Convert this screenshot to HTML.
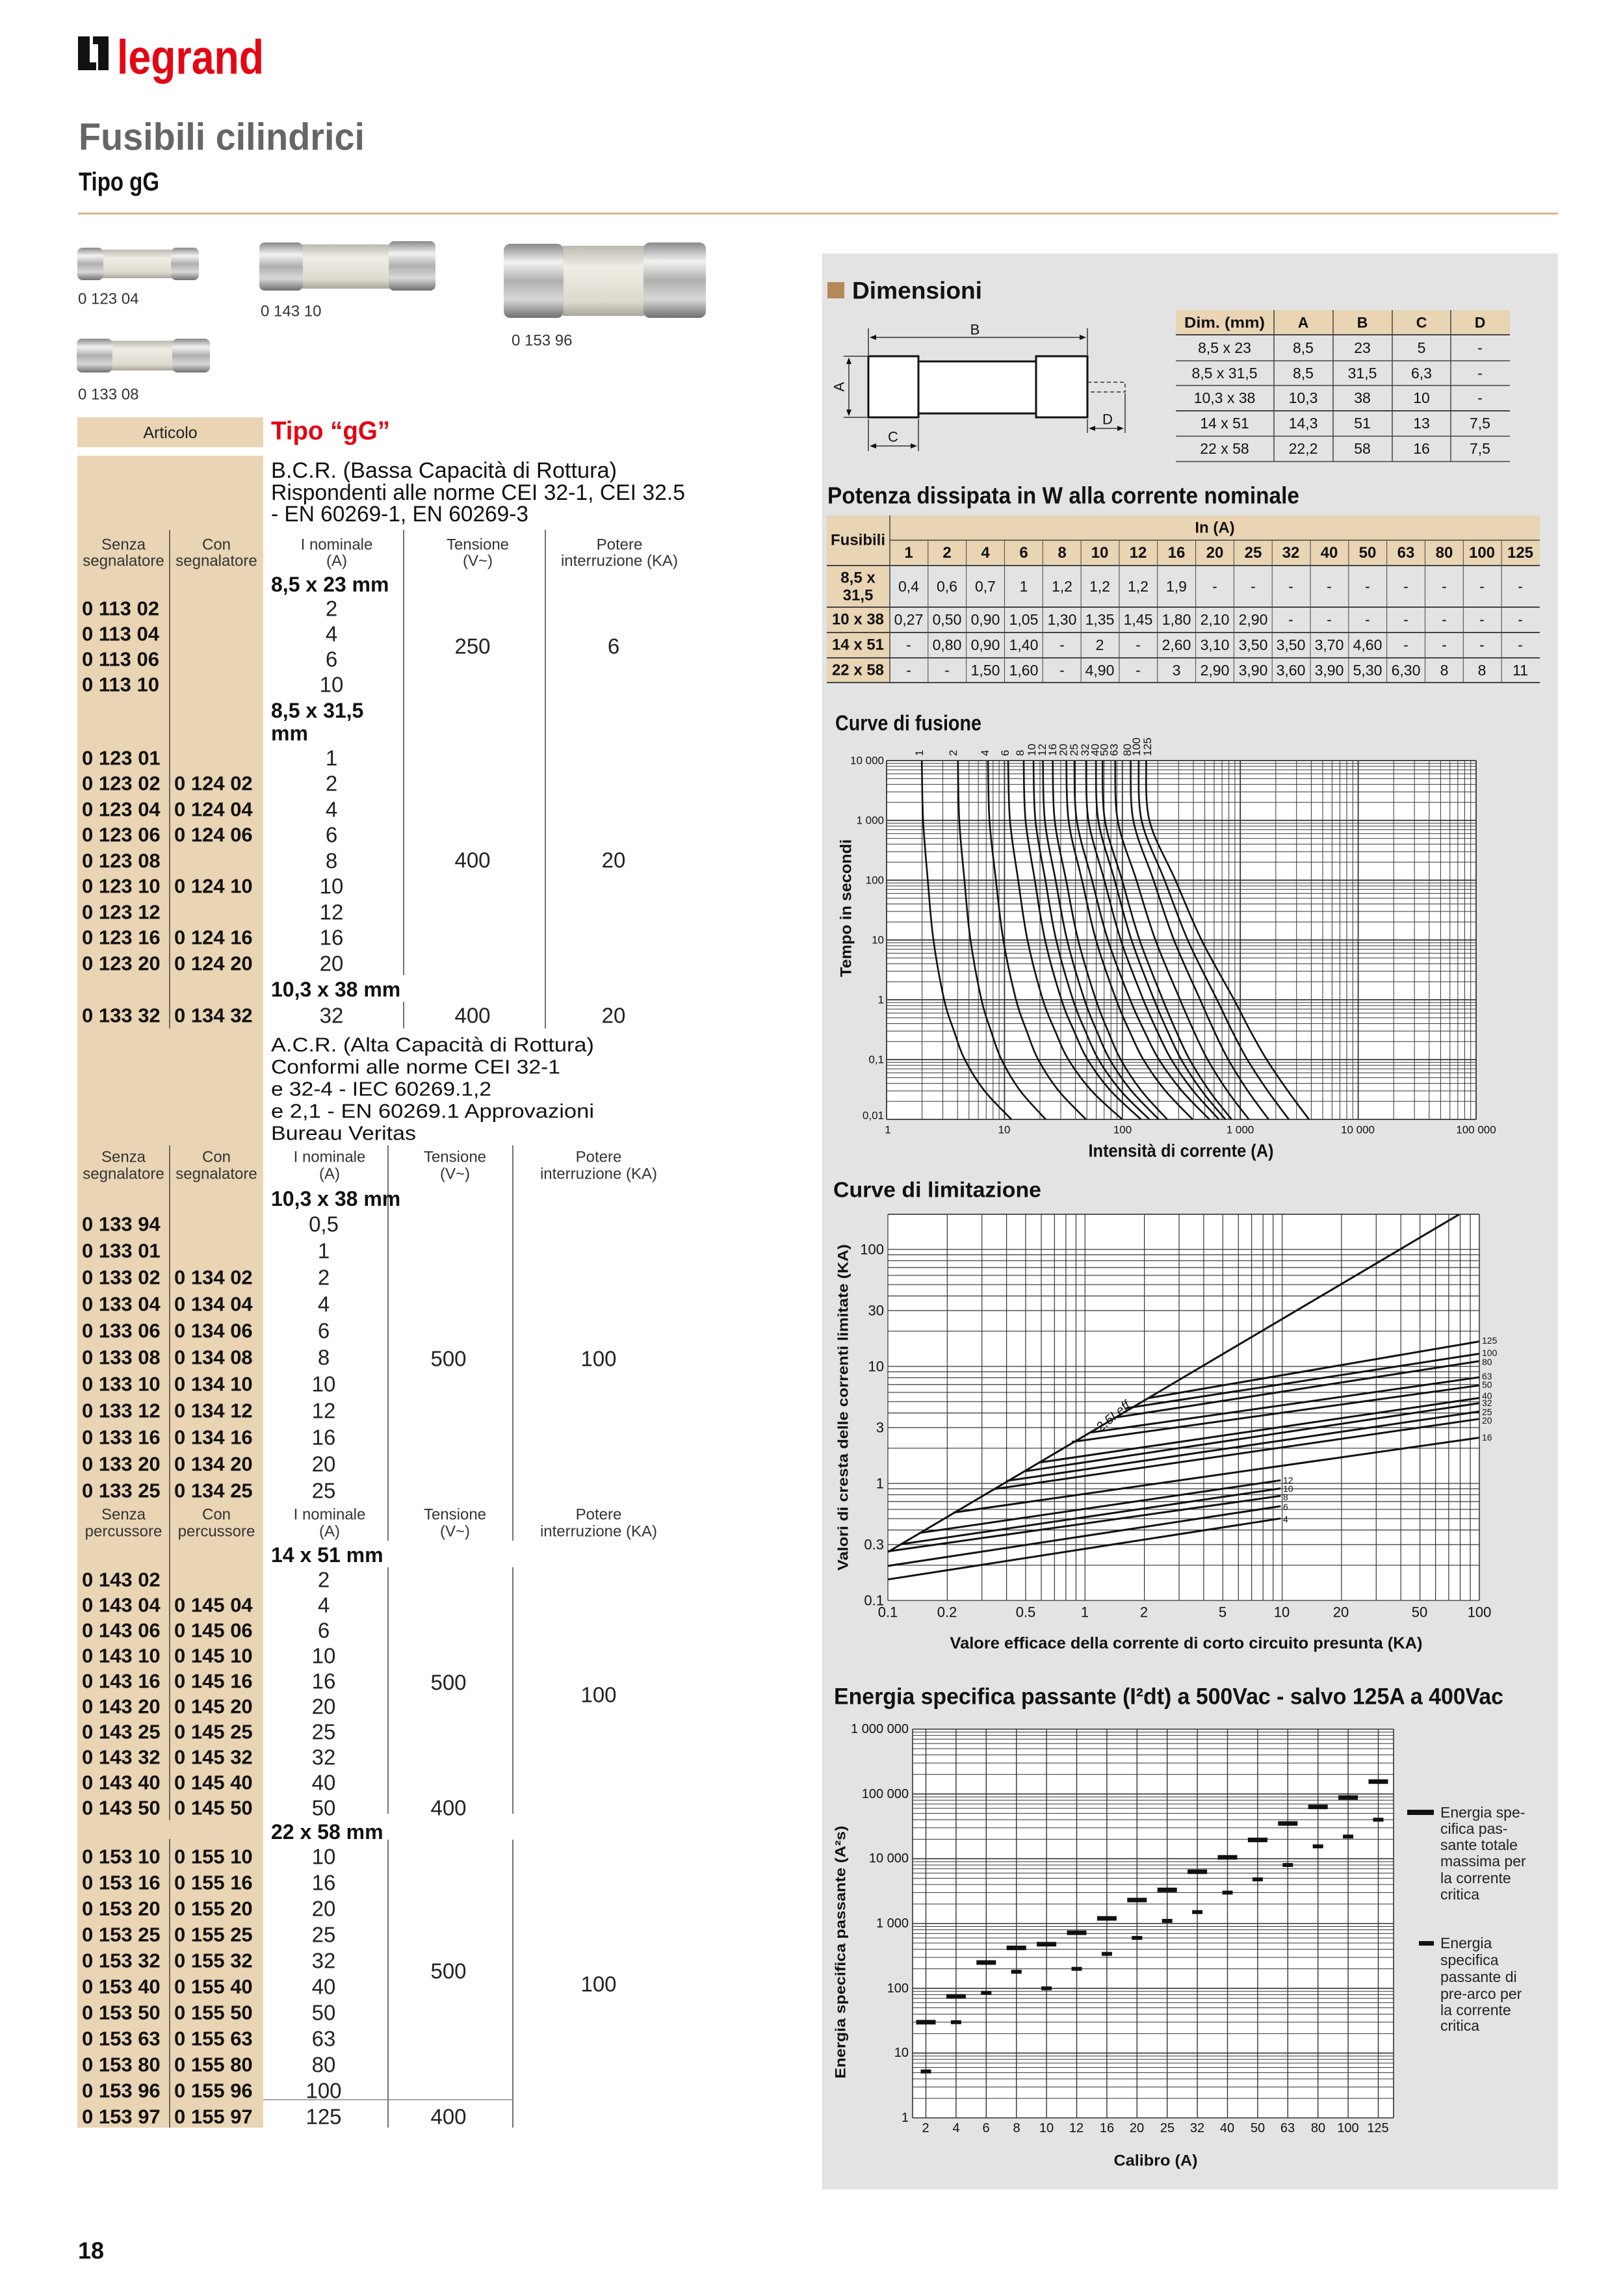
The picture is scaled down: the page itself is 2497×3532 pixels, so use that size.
<!DOCTYPE html>
<html><head><meta charset="utf-8">
<style>
html,body{margin:0;padding:0;background:#fff}
svg{display:block}
text{font-family:"Liberation Sans",Arial,sans-serif;dominant-baseline:central}
.b{font-weight:bold}
</style></head>
<body>
<svg id="s" xmlns="http://www.w3.org/2000/svg" width="2497" height="3532" viewBox="0 0 2497 3532">
<defs>
<linearGradient id="met" x1="0" y1="0" x2="0" y2="1">
<stop offset="0" stop-color="#8a8a8a"/><stop offset=".25" stop-color="#f2f2f2"/><stop offset=".5" stop-color="#b0b0b0"/><stop offset=".75" stop-color="#d8d8d8"/><stop offset="1" stop-color="#707070"/></linearGradient>
<linearGradient id="lab" x1="0" y1="0" x2="0" y2="1">
<stop offset="0" stop-color="#bdbab0"/><stop offset=".3" stop-color="#efede4"/><stop offset=".8" stop-color="#dcd9ce"/><stop offset="1" stop-color="#a9a69c"/></linearGradient>
</defs>
<!-- logo -->
<path d="M120 56h18v40h10v12h-28zM143 56h24v52h-16v-40h-8z" fill="#111"/>
<text x="180" y="88" font-size="74" class="b" fill="#e30613" textLength="226" lengthAdjust="spacingAndGlyphs">legrand</text>
<text x="121" y="211" font-size="58" class="b" fill="#666" textLength="440" lengthAdjust="spacingAndGlyphs">Fusibili cilindrici</text>
<text x="121" y="280" font-size="40" class="b" fill="#111" textLength="124" lengthAdjust="spacingAndGlyphs">Tipo gG</text>
<rect x="120" y="327" width="2277" height="3" fill="#d6b88a"/>
<!-- photos -->
<g>
<rect x="158" y="384" width="106" height="44" fill="url(#lab)"/><rect x="119" y="381" width="40" height="50" rx="8" fill="url(#met)"/><rect x="263" y="381" width="43" height="50" rx="8" fill="url(#met)"/>
<rect x="465" y="376" width="134" height="68" fill="url(#lab)"/><rect x="399" y="373" width="67" height="74" rx="8" fill="url(#met)"/><rect x="598" y="371" width="72" height="76" rx="8" fill="url(#met)"/>
<rect x="866" y="378" width="125" height="108" fill="url(#lab)"/><rect x="775" y="375" width="92" height="114" rx="10" fill="url(#met)"/><rect x="990" y="373" width="96" height="116" rx="10" fill="url(#met)"/>
<rect x="172" y="524" width="94" height="46" fill="url(#lab)"/><rect x="118" y="521" width="55" height="52" rx="8" fill="url(#met)"/><rect x="265" y="521" width="58" height="52" rx="8" fill="url(#met)"/>
</g>
<g font-size="24" fill="#333">
<text x="120" y="460">0 123 04</text><text x="401" y="479">0 143 10</text><text x="787" y="524">0 153 96</text><text x="120" y="607">0 133 08</text>
</g>
<!-- left table -->
<rect x="119" y="642" width="286" height="46" fill="#e9d4b4"/>
<text x="262" y="666" font-size="25" text-anchor="middle" fill="#222">Articolo</text>
<text x="417" y="663" font-size="40" class="b" fill="#e30613" textLength="183" lengthAdjust="spacingAndGlyphs">Tipo “gG”</text>
<rect x="119" y="701" width="286" height="2572" fill="#e9d4b4"/>
<g stroke="#444" stroke-width="1.5">
<line x1="261" y1="815" x2="261" y2="1582"/><line x1="261" y1="1762" x2="261" y2="2800"/><line x1="261" y1="2829" x2="261" y2="3273"/>
<line x1="621" y1="815" x2="621" y2="1500"/><line x1="621" y1="1541" x2="621" y2="1582"/><line x1="839" y1="815" x2="839" y2="1582"/>
<line x1="597" y1="1762" x2="597" y2="2370"/><line x1="597" y1="2411" x2="597" y2="2790"/><line x1="597" y1="2830" x2="597" y2="3273"/>
<line x1="789" y1="1762" x2="789" y2="2370"/><line x1="789" y1="2411" x2="789" y2="2790"/><line x1="789" y1="2830" x2="789" y2="3273"/>
<line x1="405" y1="3230" x2="789" y2="3230" stroke="#888"/>
</g>
<g font-size="34" fill="#111">
<text x="417" y="724" textLength="532" lengthAdjust="spacingAndGlyphs">B.C.R. (Bassa Capacità di Rottura)</text>
<text x="417" y="758" textLength="637" lengthAdjust="spacingAndGlyphs">Rispondenti alle norme CEI 32-1, CEI 32.5</text>
<text x="417" y="791" textLength="396" lengthAdjust="spacingAndGlyphs">- EN 60269-1, EN 60269-3</text>
</g>
<g font-size="31" fill="#111">
<text x="417" y="1607" textLength="497" lengthAdjust="spacingAndGlyphs">A.C.R. (Alta Capacità di Rottura)</text>
<text x="417" y="1641" textLength="445" lengthAdjust="spacingAndGlyphs">Conformi alle norme CEI 32-1</text>
<text x="417" y="1675" textLength="339" lengthAdjust="spacingAndGlyphs">e 32-4 - IEC 60269.1,2</text>
<text x="417" y="1709" textLength="497" lengthAdjust="spacingAndGlyphs">e 2,1 - EN 60269.1  Approvazioni</text>
<text x="417" y="1743" textLength="223" lengthAdjust="spacingAndGlyphs">Bureau Veritas</text>
</g>
<g font-size="24" fill="#333" text-anchor="middle">
<text x="190" y="838">Senza</text><text x="190" y="863">segnalatore</text><text x="333" y="838">Con</text><text x="333" y="863">segnalatore</text>
<text x="518" y="838">I nominale</text><text x="518" y="863">(A)</text><text x="735" y="838">Tensione</text><text x="735" y="863">(V~)</text><text x="953" y="838">Potere</text><text x="953" y="863">interruzione (KA)</text>
<text x="190" y="1780">Senza</text><text x="190" y="1806">segnalatore</text><text x="333" y="1780">Con</text><text x="333" y="1806">segnalatore</text>
<text x="507" y="1780">I nominale</text><text x="507" y="1806">(A)</text><text x="700" y="1780">Tensione</text><text x="700" y="1806">(V~)</text><text x="921" y="1780">Potere</text><text x="921" y="1806">interruzione (KA)</text>
<text x="190" y="2330">Senza</text><text x="190" y="2356">percussore</text><text x="333" y="2330">Con</text><text x="333" y="2356">percussore</text>
<text x="507" y="2330">I nominale</text><text x="507" y="2356">(A)</text><text x="700" y="2330">Tensione</text><text x="700" y="2356">(V~)</text><text x="921" y="2330">Potere</text><text x="921" y="2356">interruzione (KA)</text>
</g>
<g font-size="32" class="b" fill="#111">
<text x="417" y="899">8,5 x 23 mm</text><text x="417" y="1093">8,5 x 31,5</text><text x="417" y="1128">mm</text>
<text x="417" y="1522">10,3 x 38 mm</text><text x="417" y="1844">10,3 x 38 mm</text><text x="417" y="2392">14 x 51 mm</text><text x="417" y="2818">22 x 58 mm</text>
</g>
<g font-size="31" class="b" fill="#111">
<text x="126" y="936">0 113 02</text><text x="126" y="975">0 113 04</text><text x="126" y="1014">0 113 06</text><text x="126" y="1053">0 113 10</text>
<text x="126" y="1166">0 123 01</text><text x="126" y="1205">0 123 02</text><text x="126" y="1245">0 123 04</text><text x="126" y="1284">0 123 06</text><text x="126" y="1324">0 123 08</text><text x="126" y="1363">0 123 10</text><text x="126" y="1403">0 123 12</text><text x="126" y="1442">0 123 16</text><text x="126" y="1482">0 123 20</text>
<text x="268" y="1205">0 124 02</text><text x="268" y="1245">0 124 04</text><text x="268" y="1284">0 124 06</text><text x="268" y="1363">0 124 10</text><text x="268" y="1442">0 124 16</text><text x="268" y="1482">0 124 20</text>
<text x="126" y="1562">0 133 32</text><text x="268" y="1562">0 134 32</text>
<text x="126" y="1883">0 133 94</text><text x="126" y="1924">0 133 01</text><text x="126" y="1965">0 133 02</text><text x="126" y="2006">0 133 04</text><text x="126" y="2047">0 133 06</text><text x="126" y="2088">0 133 08</text><text x="126" y="2129">0 133 10</text><text x="126" y="2170">0 133 12</text><text x="126" y="2211">0 133 16</text><text x="126" y="2252">0 133 20</text><text x="126" y="2293">0 133 25</text>
<text x="268" y="1965">0 134 02</text><text x="268" y="2006">0 134 04</text><text x="268" y="2047">0 134 06</text><text x="268" y="2088">0 134 08</text><text x="268" y="2129">0 134 10</text><text x="268" y="2170">0 134 12</text><text x="268" y="2211">0 134 16</text><text x="268" y="2252">0 134 20</text><text x="268" y="2293">0 134 25</text>
<text x="126" y="2430">0 143 02</text><text x="126" y="2469">0 143 04</text><text x="126" y="2508">0 143 06</text><text x="126" y="2547">0 143 10</text><text x="126" y="2586">0 143 16</text><text x="126" y="2625">0 143 20</text><text x="126" y="2664">0 143 25</text><text x="126" y="2703">0 143 32</text><text x="126" y="2742">0 143 40</text><text x="126" y="2781">0 143 50</text>
<text x="268" y="2469">0 145 04</text><text x="268" y="2508">0 145 06</text><text x="268" y="2547">0 145 10</text><text x="268" y="2586">0 145 16</text><text x="268" y="2625">0 145 20</text><text x="268" y="2664">0 145 25</text><text x="268" y="2703">0 145 32</text><text x="268" y="2742">0 145 40</text><text x="268" y="2781">0 145 50</text>
<text x="126" y="2856">0 153 10</text><text x="126" y="2896">0 153 16</text><text x="126" y="2936">0 153 20</text><text x="126" y="2976">0 153 25</text><text x="126" y="3016">0 153 32</text><text x="126" y="3056">0 153 40</text><text x="126" y="3096">0 153 50</text><text x="126" y="3136">0 153 63</text><text x="126" y="3176">0 153 80</text><text x="126" y="3216">0 153 96</text><text x="126" y="3256">0 153 97</text>
<text x="268" y="2856">0 155 10</text><text x="268" y="2896">0 155 16</text><text x="268" y="2936">0 155 20</text><text x="268" y="2976">0 155 25</text><text x="268" y="3016">0 155 32</text><text x="268" y="3056">0 155 40</text><text x="268" y="3096">0 155 50</text><text x="268" y="3136">0 155 63</text><text x="268" y="3176">0 155 80</text><text x="268" y="3216">0 155 96</text><text x="268" y="3256">0 155 97</text>
</g>
<g font-size="33" fill="#222" text-anchor="middle">
<text x="510" y="936">2</text><text x="510" y="975">4</text><text x="510" y="1014">6</text><text x="510" y="1053">10</text>
<text x="510" y="1166">1</text><text x="510" y="1205">2</text><text x="510" y="1245">4</text><text x="510" y="1284">6</text><text x="510" y="1324">8</text><text x="510" y="1363">10</text><text x="510" y="1403">12</text><text x="510" y="1442">16</text><text x="510" y="1482">20</text><text x="510" y="1562">32</text>
<text x="727" y="994">250</text><text x="944" y="994">6</text><text x="727" y="1323">400</text><text x="944" y="1323">20</text><text x="727" y="1562">400</text><text x="944" y="1562">20</text>
<text x="498" y="1883">0,5</text><text x="498" y="1924">1</text><text x="498" y="1965">2</text><text x="498" y="2006">4</text><text x="498" y="2047">6</text><text x="498" y="2088">8</text><text x="498" y="2129">10</text><text x="498" y="2170">12</text><text x="498" y="2211">16</text><text x="498" y="2252">20</text><text x="498" y="2293">25</text>
<text x="690" y="2090">500</text><text x="921" y="2090">100</text>
<text x="498" y="2430">2</text><text x="498" y="2469">4</text><text x="498" y="2508">6</text><text x="498" y="2547">10</text><text x="498" y="2586">16</text><text x="498" y="2625">20</text><text x="498" y="2664">25</text><text x="498" y="2703">32</text><text x="498" y="2742">40</text><text x="498" y="2781">50</text>
<text x="690" y="2588">500</text><text x="921" y="2607">100</text><text x="690" y="2781">400</text>
<text x="498" y="2856">10</text><text x="498" y="2896">16</text><text x="498" y="2936">20</text><text x="498" y="2976">25</text><text x="498" y="3016">32</text><text x="498" y="3056">40</text><text x="498" y="3096">50</text><text x="498" y="3136">63</text><text x="498" y="3176">80</text><text x="498" y="3216">100</text><text x="498" y="3256">125</text>
<text x="690" y="3032">500</text><text x="921" y="3052">100</text><text x="690" y="3256">400</text>
</g>
<text x="120" y="3462" font-size="36" class="b" fill="#111">18</text>

<!-- right panel -->
<rect x="1265" y="390" width="1132" height="2978" fill="#e3e3e3"/>
<rect x="1273" y="434" width="26" height="25" fill="#b5885a"/>
<text x="1311" y="447" font-size="37" class="b" fill="#111" textLength="200" lengthAdjust="spacingAndGlyphs">Dimensioni</text>
<!-- fuse drawing -->
<g stroke="#111" stroke-width="3" fill="#fff">
<rect x="1413" y="556" width="181" height="80"/>
<rect x="1336" y="548" width="77" height="94"/>
<rect x="1594" y="548" width="79" height="94"/>
</g>
<g stroke="#333" stroke-width="1.5" fill="none">
<path d="M1673 588h58v15h-58" stroke-dasharray="6 4"/>
<line x1="1336" y1="505" x2="1336" y2="546"/><line x1="1673" y1="505" x2="1673" y2="546"/>
<line x1="1340" y1="519" x2="1669" y2="519"/>
<line x1="1298" y1="548" x2="1334" y2="548"/><line x1="1298" y1="642" x2="1334" y2="642"/>
<line x1="1306" y1="552" x2="1306" y2="638"/>
<line x1="1336" y1="645" x2="1336" y2="694"/><line x1="1413" y1="645" x2="1413" y2="694"/>
<line x1="1340" y1="686" x2="1409" y2="686"/>
<line x1="1673" y1="645" x2="1673" y2="666"/><line x1="1731" y1="605" x2="1731" y2="666"/>
<line x1="1677" y1="659" x2="1727" y2="659"/>
</g>
<g fill="#111">
<path d="M1338 519l10-4v8zM1671 519l-10-4v8zM1306 550l-4 10h8zM1306 640l-4-10h8zM1338 686l10-4v8zM1411 686l-10-4v8zM1675 659l10-4v8zM1729 659l-10-4v8z"/>
</g>
<g font-size="22" fill="#111" text-anchor="middle">
<text x="1500" y="507">B</text><text x="1374" y="672">C</text><text x="1704" y="645">D</text>
<text transform="translate(1291 595) rotate(-90)">A</text>
</g>
<!-- dim table -->
<rect x="1809" y="477" width="514" height="38" fill="#e9d4b4"/>
<g stroke="#444" stroke-width="1.5">
<line x1="1809" y1="515" x2="2323" y2="515" stroke-width="2"/><line x1="1809" y1="555" x2="2323" y2="555"/><line x1="1809" y1="593" x2="2323" y2="593"/><line x1="1809" y1="632" x2="2323" y2="632" stroke-width="2"/><line x1="1809" y1="671" x2="2323" y2="671"/><line x1="1809" y1="710" x2="2323" y2="710"/>
<line x1="1960" y1="477" x2="1960" y2="710"/><line x1="2051" y1="477" x2="2051" y2="710"/><line x1="2142" y1="477" x2="2142" y2="710"/><line x1="2232" y1="477" x2="2232" y2="710"/>
</g>
<g font-size="23" text-anchor="middle" fill="#111">
<g class="b"><text x="1884" y="496" textLength="124" lengthAdjust="spacingAndGlyphs">Dim. (mm)</text><text x="2005" y="496">A</text><text x="2096" y="496">B</text><text x="2187" y="496">C</text><text x="2277" y="496">D</text></g>
<text x="1884" y="535">8,5 x 23</text><text x="2005" y="535">8,5</text><text x="2096" y="535">23</text><text x="2187" y="535">5</text><text x="2277" y="535">-</text>
<text x="1884" y="574">8,5 x 31,5</text><text x="2005" y="574">8,5</text><text x="2096" y="574">31,5</text><text x="2187" y="574">6,3</text><text x="2277" y="574">-</text>
<text x="1884" y="612">10,3 x 38</text><text x="2005" y="612">10,3</text><text x="2096" y="612">38</text><text x="2187" y="612">10</text><text x="2277" y="612">-</text>
<text x="1884" y="651">14 x 51</text><text x="2005" y="651">14,3</text><text x="2096" y="651">51</text><text x="2187" y="651">13</text><text x="2277" y="651">7,5</text>
<text x="1884" y="690">22 x 58</text><text x="2005" y="690">22,2</text><text x="2096" y="690">58</text><text x="2187" y="690">16</text><text x="2277" y="690">7,5</text>
</g>
<text x="1273" y="762" font-size="36" class="b" fill="#111" textLength="726" lengthAdjust="spacingAndGlyphs">Potenza dissipata in W alla corrente nominale</text>
<!-- potenza table -->
<rect x="1272" y="793" width="1097" height="77" fill="#e9d4b4"/>
<rect x="1272" y="870" width="97" height="180" fill="#e9d4b4"/>
<g stroke="#444" stroke-width="1.5" id="ptl"></g>
<g font-size="24" class="b" text-anchor="middle" fill="#111">
<text x="1320" y="831">Fusibili</text><text x="1869" y="812">In (A)</text>
<text y="850"><tspan x="1398">1</tspan><tspan x="1457">2</tspan><tspan x="1516">4</tspan><tspan x="1575">6</tspan><tspan x="1634">8</tspan><tspan x="1692">10</tspan><tspan x="1751">12</tspan><tspan x="1810">16</tspan><tspan x="1869">20</tspan><tspan x="1928">25</tspan><tspan x="1986">32</tspan><tspan x="2045">40</tspan><tspan x="2104">50</tspan><tspan x="2163">63</tspan><tspan x="2222">80</tspan><tspan x="2280">100</tspan><tspan x="2339">125</tspan></text>
<text x="1320" y="889">8,5 x</text><text x="1320" y="916">31,5</text>
<text x="1320" y="953">10 x 38</text><text x="1320" y="992">14 x 51</text><text x="1320" y="1031">22 x 58</text>
</g>
<g font-size="23" text-anchor="middle" fill="#111">
<text y="902"><tspan x="1398">0,4</tspan><tspan x="1457">0,6</tspan><tspan x="1516">0,7</tspan><tspan x="1575">1</tspan><tspan x="1634">1,2</tspan><tspan x="1692">1,2</tspan><tspan x="1751">1,2</tspan><tspan x="1810">1,9</tspan><tspan x="1869">-</tspan><tspan x="1928">-</tspan><tspan x="1986">-</tspan><tspan x="2045">-</tspan><tspan x="2104">-</tspan><tspan x="2163">-</tspan><tspan x="2222">-</tspan><tspan x="2280">-</tspan><tspan x="2339">-</tspan></text>
<text y="953" textLength="0"><tspan x="1398">0,27</tspan><tspan x="1457">0,50</tspan><tspan x="1516">0,90</tspan><tspan x="1575">1,05</tspan><tspan x="1634">1,30</tspan><tspan x="1692">1,35</tspan><tspan x="1751">1,45</tspan><tspan x="1810">1,80</tspan><tspan x="1869">2,10</tspan><tspan x="1928">2,90</tspan><tspan x="1986">-</tspan><tspan x="2045">-</tspan><tspan x="2104">-</tspan><tspan x="2163">-</tspan><tspan x="2222">-</tspan><tspan x="2280">-</tspan><tspan x="2339">-</tspan></text>
<text y="992"><tspan x="1398">-</tspan><tspan x="1457">0,80</tspan><tspan x="1516">0,90</tspan><tspan x="1575">1,40</tspan><tspan x="1634">-</tspan><tspan x="1692">2</tspan><tspan x="1751">-</tspan><tspan x="1810">2,60</tspan><tspan x="1869">3,10</tspan><tspan x="1928">3,50</tspan><tspan x="1986">3,50</tspan><tspan x="2045">3,70</tspan><tspan x="2104">4,60</tspan><tspan x="2163">-</tspan><tspan x="2222">-</tspan><tspan x="2280">-</tspan><tspan x="2339">-</tspan></text>
<text y="1031"><tspan x="1398">-</tspan><tspan x="1457">-</tspan><tspan x="1516">1,50</tspan><tspan x="1575">1,60</tspan><tspan x="1634">-</tspan><tspan x="1692">4,90</tspan><tspan x="1751">-</tspan><tspan x="1810">3</tspan><tspan x="1869">2,90</tspan><tspan x="1928">3,90</tspan><tspan x="1986">3,60</tspan><tspan x="2045">3,90</tspan><tspan x="2104">5,30</tspan><tspan x="2163">6,30</tspan><tspan x="2222">8</tspan><tspan x="2280">8</tspan><tspan x="2339">11</tspan></text>
</g>

<!-- fusion chart -->
<text x="1285" y="1112" font-size="33" class="b" fill="#111" textLength="225" lengthAdjust="spacingAndGlyphs">Curve di fusione</text>
<rect x="1364" y="1170" width="907" height="552" fill="#fff"/>
<g id="fg" stroke="#333"></g>
<g id="fc" stroke="#111" stroke-width="2.6" fill="none"></g>
<g font-size="17" fill="#111" text-anchor="end">
<text x="1360" y="1170">10 000</text><text x="1360" y="1262">1 000</text><text x="1360" y="1354">100</text><text x="1360" y="1446">10</text><text x="1360" y="1538">1</text><text x="1360" y="1630">0,1</text><text x="1360" y="1716">0,01</text>
</g>
<g font-size="17" fill="#111" text-anchor="middle">
<text x="1366" y="1738">1</text><text x="1545" y="1738">10</text><text x="1727" y="1738">100</text><text x="1908" y="1738">1 000</text><text x="2089" y="1738">10 000</text><text x="2271" y="1738">100 000</text>
</g>
<g font-size="17" fill="#111" id="fl"></g>
<text x="1817" y="1770" font-size="28" class="b" text-anchor="middle" fill="#111" textLength="285" lengthAdjust="spacingAndGlyphs">Intensità di corrente (A)</text>
<text transform="translate(1302 1397) rotate(-90)" font-size="24" class="b" text-anchor="middle" fill="#111" textLength="212" lengthAdjust="spacingAndGlyphs">Tempo in secondi</text>

<!-- limitation chart -->
<text x="1282" y="1830" font-size="33" class="b" fill="#111" textLength="320" lengthAdjust="spacingAndGlyphs">Curve di limitazione</text>
<rect x="1366" y="1868" width="910" height="594" fill="#fff"/>
<g id="lg" stroke="#333"></g>
<g id="lc" stroke="#111" stroke-width="3" fill="none"></g>
<g font-size="22" fill="#111" text-anchor="end">
<text x="1360" y="1922">100</text><text x="2000" y="0" opacity="0"> </text><text x="1360" y="2016">30</text><text x="1360" y="2102">10</text><text x="1360" y="2196">3</text><text x="1360" y="2282">1</text><text x="1360" y="2376">0.3</text><text x="1360" y="2462">0.1</text>
</g>
<g font-size="22" fill="#111" text-anchor="middle">
<text x="1366" y="2480">0.1</text><text x="1457" y="2480">0.2</text><text x="1578" y="2480">0.5</text><text x="1669" y="2480">1</text><text x="1760" y="2480">2</text><text x="1881" y="2480">5</text><text x="1972" y="2480">10</text><text x="2063" y="2480">20</text><text x="2184" y="2480">50</text><text x="2276" y="2480">100</text>
</g>
<g font-size="14" fill="#111">
<text x="2280" y="2062">125</text><text x="2280" y="2081">100</text><text x="2280" y="2095">80</text><text x="2280" y="2117">63</text><text x="2280" y="2130">50</text><text x="2280" y="2147">40</text><text x="2280" y="2158">32</text><text x="2280" y="2172">25</text><text x="2280" y="2185">20</text><text x="2280" y="2211">16</text>
<text x="1974" y="2277">12</text><text x="1974" y="2290">10</text><text x="1974" y="2303">8</text><text x="1974" y="2318">6</text><text x="1974" y="2337">4</text>
</g>
<text transform="translate(1713 2179) rotate(-40)" font-size="20" font-style="italic" fill="#111" text-anchor="middle">2.5I eff</text>
<text x="1825" y="2528" font-size="25" class="b" text-anchor="middle" fill="#111" textLength="727" lengthAdjust="spacingAndGlyphs">Valore efficace della corrente di corto circuito presunta (KA)</text>
<text transform="translate(1297 2165) rotate(-90)" font-size="22" class="b" text-anchor="middle" fill="#111" textLength="502" lengthAdjust="spacingAndGlyphs">Valori di cresta delle correnti limitate (KA)</text>

<!-- energy chart -->
<text x="1283" y="2610" font-size="35" class="b" fill="#111" textLength="1030" lengthAdjust="spacingAndGlyphs">Energia specifica passante (I²dt) a 500Vac - salvo 125A a 400Vac</text>
<rect x="1404" y="2660" width="740" height="598" fill="#fff"/>
<g id="eg" stroke="#333"></g>
<g id="eb" fill="#111"></g>
<g font-size="20" fill="#111" text-anchor="end">
<text x="1398" y="2660">1 000 000</text><text x="1398" y="2760">100 000</text><text x="1398" y="2859">10 000</text><text x="1398" y="2959">1 000</text><text x="1398" y="3059">100</text><text x="1398" y="3158">10</text><text x="1398" y="3258">1</text>
</g>
<g font-size="20" fill="#111" text-anchor="middle">
<text y="3274"><tspan x="1424">2</tspan><tspan x="1471">4</tspan><tspan x="1517">6</tspan><tspan x="1564">8</tspan><tspan x="1610">10</tspan><tspan x="1656">12</tspan><tspan x="1703">16</tspan><tspan x="1749">20</tspan><tspan x="1796">25</tspan><tspan x="1842">32</tspan><tspan x="1888">40</tspan><tspan x="1935">50</tspan><tspan x="1981">63</tspan><tspan x="2028">80</tspan><tspan x="2074">100</tspan><tspan x="2120">125</tspan></text>
</g>
<text x="1778" y="3324" font-size="24" class="b" text-anchor="middle" fill="#111" textLength="129" lengthAdjust="spacingAndGlyphs">Calibro (A)</text>
<text transform="translate(1293 3003) rotate(-90)" font-size="22" class="b" text-anchor="middle" fill="#111" textLength="389" lengthAdjust="spacingAndGlyphs">Energia specifica passante (A²s)</text>
<rect x="2165" y="2784" width="41" height="8" fill="#111"/>
<rect x="2183" y="2986" width="23" height="7" fill="#111"/>
<g font-size="23" fill="#222">
<text x="2216" y="2788">Energia spe-</text><text x="2216" y="2813">cifica pas-</text><text x="2216" y="2838">sante totale</text><text x="2216" y="2863">massima per</text><text x="2216" y="2889">la corrente</text><text x="2216" y="2914">critica</text>
<text x="2216" y="2989">Energia</text><text x="2216" y="3015">specifica</text><text x="2216" y="3041">passante di</text><text x="2216" y="3067">pre-arco per</text><text x="2216" y="3092">la corrente</text><text x="2216" y="3116">critica</text>
</g>
</svg>
<script>
(function(){
var NS='http://www.w3.org/2000/svg';
function el(g,n,a){var e=document.createElementNS(NS,n);for(var k in a)e.setAttribute(k,a[k]);g.appendChild(e);return e;}
function L(g,x1,y1,x2,y2,w){el(g,'line',{x1:x1,y1:y1,x2:x2,y2:y2,'stroke-width':w});}
var lg10=Math.log10;
// potenza table lines
var p=document.getElementById('ptl');
L(p,1369,831,2369,831,1.5);
[870,934,973,1012,1050].forEach(function(y){L(p,1272,y,2369,y,2);});
L(p,1369,793,1369,1050,1.5);
for(var j=1;j<17;j++){var x=1369+58.82*j;L(p,x,831,x,1050,1);}
// fusion grid
var fg=document.getElementById('fg');
function FX(v){return 1364+lg10(v)*181.4;} function FY(t){return 1722-(lg10(t)+2)*92;}
for(var d=0;d<5;d++)for(var k=1;k<10;k++){var x=FX(k*Math.pow(10,d));L(fg,x,1170,x,1722,k==1?1.8:1);}
L(fg,2271,1170,2271,1722,1.8);
for(var d=-2;d<4;d++)for(var k=1;k<10;k++){var y=FY(k*Math.pow(10,d));L(fg,1364,y,2271,y,k==1?1.8:1);}
L(fg,1364,1170,2271,1170,1.8);
// fusion curves
var tops=[205,282,346,389,422,443,463,484,513,530,555,576,590,617,650,667,683];
var bots=[396,469,555,632,672,690,710,728,782,818,838,852,865,902,944,987,1030];
var labs=['1','2','4','6','8','10','12','16','20','25','32','40','50','63','80','100','125'];
var lx=[200,272,340,383,415,440,462,484,507,530,553,575,594,615,643,663,686];
var LT=[4,3,2,1,0,-0.523,-1,-1.523,-2];
var S1=[0,.015,.067,.13,.25,.36,.48,.70,1],S2=[0,.02,.18,.34,.54,.64,.74,.87,1];
var fc=document.getElementById('fc'),fl=document.getElementById('fl');
for(var i=0;i<17;i++){
 var w=i/16,t=(tops[i]-130)/251.2,b=(bots[i]-130)/251.2,pts=[];
 for(var m=0;m<9;m++){var f=S1[m]*(1-w)+S2[m]*w;var li=t+f*(b-t);pts.push([1364+li*181.4,1722-(LT[m]+2)*92]);}
 var dd='M'+pts[0][0].toFixed(1)+' '+pts[0][1].toFixed(1);
 for(var m=0;m<8;m++){var p0=pts[Math.max(m-1,0)],p1=pts[m],p2=pts[m+1],p3=pts[Math.min(m+2,8)];
  var c1=[p1[0]+(p2[0]-p0[0])/6,p1[1]+(p2[1]-p0[1])/6],c2=[p2[0]-(p3[0]-p1[0])/6,p2[1]-(p3[1]-p1[1])/6];
  dd+=' C'+c1[0].toFixed(1)+' '+c1[1].toFixed(1)+' '+c2[0].toFixed(1)+' '+c2[1].toFixed(1)+' '+p2[0].toFixed(1)+' '+p2[1].toFixed(1);}
 el(fc,'path',{d:dd});
 var tx=el(fl,'text',{transform:'translate('+(1270+lx[i]/1.385).toFixed(1)+' 1163) rotate(-90)'});tx.textContent=labs[i];
}
// limitation grid
var lgG=document.getElementById('lg');
function LX(v){return 1366+lg10(v/0.1)*303.3;} function LY(v){return 2462-lg10(v/0.1)*180;}
for(var d=-1;d<2;d++)for(var k=1;k<10;k++){var x=LX(k*Math.pow(10,d));L(lgG,x,1868,x,2462,1.2);}
L(lgG,2276,1868,2276,2462,1.5);
for(var d=-1;d<3;d++)for(var k=1;k<10;k++){var v=k*Math.pow(10,d);var y=LY(v);if(y>=1866)L(lgG,1366,y,2276,y,1.2);}
L(lgG,1366,1868,2276,1868,1.5);
var lc=document.getElementById('lc');
function Z(x,y){return (1270+x/1.385).toFixed(1)+' '+(1922+(y-230)*0.4968).toFixed(1);}
var segs=[[133,1167,1350,122],[690,690,1393,515],[640,722,1393,553],[620,750,1393,576],[565,797,1393,626],[525,826,1393,651],[455,890,1393,690],[425,917,1393,706],[385,947,1393,732],[360,972,1393,755],[272,1045,1393,813],[200,1108,970,945],[160,1143,970,970],[133,1165,970,993],[133,1210,970,1025],[133,1252,970,1063]];
segs.forEach(function(s){el(lc,'path',{d:'M'+Z(s[0],s[1])+' L'+Z(s[2],s[3])});});
// energy
var eg=document.getElementById('eg');
function EY(v){return 3258-lg10(v)*99.67;}
for(var d=0;d<6;d++)for(var k=1;k<10;k++){var y=EY(k*Math.pow(10,d));L(eg,1404,y,2144,y,k==1?1.6:1);}
L(eg,1404,2660,2144,2660,1.6);
L(eg,1404,2660,1404,3258,1.6);L(eg,2144,2660,2144,3258,1.6);
for(var i=0;i<16;i++){var x=1424.5+46.4*i;L(eg,x,2660,x,3258,1.4);}
var tot=[30,75,250,420,480,720,1200,2300,3300,6300,10500,19500,35000,63000,88000,155000];
var pre=[5.2,30,85,180,100,200,340,600,1100,1500,3000,4800,8000,15500,22000,40000];
var eb=document.getElementById('eb');
for(var i=0;i<16;i++){var x=1424.5+46.4*i;
 el(eb,'rect',{x:(x-15).toFixed(1),y:(EY(tot[i])-3.5).toFixed(1),width:30,height:7});
 el(eb,'rect',{x:(x-8).toFixed(1),y:(EY(pre[i])-3).toFixed(1),width:16,height:6});}
})();
</script>
</body></html>
